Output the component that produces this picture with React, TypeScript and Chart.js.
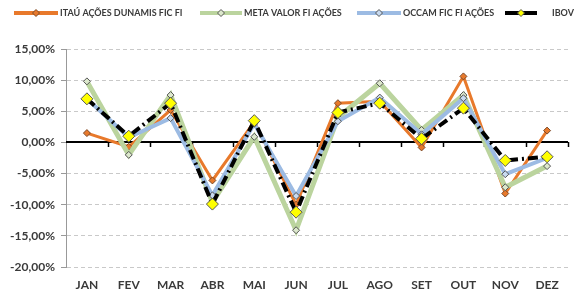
import React, { useEffect, useRef } from "react";
import { Chart, registerables } from "chart.js";

Chart.register(...registerables);

const months = ["JAN", "FEV", "MAR", "ABR", "MAI", "JUN", "JUL", "AGO", "SET", "OUT", "NOV", "DEZ"];
const seriesNames = ["ITAÚ AÇÕES DUNAMIS FIC FI", "META VALOR FI AÇÕES", "OCCAM FIC FI AÇÕES", "IBOV"];
const itau = [1.5, -0.7, 5.2, -6.1, 3.3, -10.0, 6.3, 6.6, -0.8, 10.6, -8.2, 1.9];
const meta = [9.8, -2.0, 7.6, -9.6, 0.9, -14.1, 4.0, 9.5, 2.0, 7.6, -7.2, -3.8];
const occam = [7.0, 0.8, 3.9, -8.5, 3.0, -8.6, 3.4, 7.2, 1.3, 7.1, -5.1, -2.5];
const ibov = [7.0, 1.0, 6.3, -9.9, 3.5, -11.2, 4.8, 6.3, 0.6, 5.5, -2.9, -2.3];
const yTicks = [15, 10, 5, 0, -5, -10, -15, -20];

const FONT = "Lato, 'Open Sans', sans-serif";
const TEXT = "#3a3a3a";

const fmt = (v: number) => v.toFixed(2).replace(".", ",") + "%";

// legend layout: sample line start x and length per item
const legendStarts = [14, 200, 357, 505];
const legendLens = [44, 42, 44, 32];

const zeroLinePlugin = {
  id: "zeroLine",
  beforeDatasetsDraw(chart: any) {
    const { ctx, chartArea, scales } = chart;
    const y = Math.round(scales.y.getPixelForValue(0));
    ctx.save();
    ctx.strokeStyle = "#000";
    ctx.lineWidth = 2;
    ctx.beginPath();
    ctx.moveTo(chartArea.left, y);
    ctx.lineTo(chartArea.right, y);
    ctx.stroke();
    ctx.lineWidth = 1.5;
    const n = months.length;
    const w = (chartArea.right - chartArea.left) / n;
    for (let k = 1; k <= n; k++) {
      const x = Math.round(chartArea.left + k * w) + 0.5;
      ctx.beginPath();
      ctx.moveTo(x, y);
      ctx.lineTo(x, y + 5);
      ctx.stroke();
    }
    ctx.restore();
  },
};

const legendPlugin = {
  id: "customLegend",
  afterDraw(chart: any) {
    const { ctx } = chart;
    ctx.save();
    ctx.font = `bold 9px ${FONT}`;
    ctx.textBaseline = "middle";
    const y = 13;
    chart.data.datasets.forEach((ds: any, i: number) => {
      const x = legendStarts[i];
      const sample = legendLens[i];
      ctx.save();
      ctx.strokeStyle = ds.borderColor;
      ctx.lineWidth = 4;
      ctx.beginPath();
      ctx.moveTo(x, y);
      ctx.lineTo(x + sample, y);
      ctx.stroke();
      const r = ds.legendMarker;
      const cx = x + sample / 2;
      ctx.fillStyle = ds.pointBackgroundColor;
      ctx.strokeStyle = ds.pointBorderColor;
      ctx.lineWidth = 1;
      ctx.beginPath();
      ctx.moveTo(cx, y - r);
      ctx.lineTo(cx + r, y);
      ctx.lineTo(cx, y + r);
      ctx.lineTo(cx - r, y);
      ctx.closePath();
      ctx.fill();
      ctx.stroke();
      ctx.restore();
      ctx.fillStyle = TEXT;
      ctx.fillText(ds.label, x + sample + (i === 3 ? 15 : 2), y);
    });
    ctx.restore();
  },
};

export default function App() {
  const ref = useRef<HTMLCanvasElement | null>(null);
  useEffect(() => {
    if (!ref.current) return;
    const mk = (
      label: string,
      data: number[],
      color: string,
      width: number,
      fill: string,
      border: string,
      radius: number,
      order: number,
      dash: number[] = []
    ) => ({
      label,
      data,
      borderColor: color,
      backgroundColor: color,
      borderWidth: width,
      borderDash: dash,
      pointStyle: "rectRot",
      pointRadius: radius,
      pointBackgroundColor: fill,
      pointBorderColor: border,
      pointBorderWidth: 1,
      tension: 0,
      order,
      legendMarker: Math.min(radius, 3.5),
    });
    const chart = new Chart(ref.current, {
      type: "line",
      data: {
        labels: months,
        datasets: [
          mk(seriesNames[0], itau, "#E8792B", 3, "#E8792B", "#7a4a2a", 3.5, 3),
          mk(seriesNames[1], meta, "#BBD49E", 5, "#DCE8CC", "#555555", 3.5, 2),
          mk(seriesNames[2], occam, "#9CBBE3", 4, "#C8DAF0", "#555555", 3.5, 1),
          mk(seriesNames[3], ibov, "#000000", 4, "#FFFF00", "#555555", 6, 0, [10, 4, 2, 4]),
        ] as any,
      },
      options: {
        responsive: false,
        animation: false,
        layout: { padding: { top: 49, right: 7, left: 0, bottom: 0 } },
        plugins: { legend: { display: false }, tooltip: { enabled: false } },
        scales: {
          x: {
            offset: true,
            grid: { display: false },
            border: { display: false },
            ticks: { font: { family: FONT, size: 12, weight: "bold" }, color: TEXT, padding: 3 },
            afterFit: (s: any) => {
              s.height = 30;
            },
          },
          y: {
            min: -20,
            max: 15,
            afterBuildTicks: (s: any) => {
              s.ticks = yTicks.map((v) => ({ value: v }));
            },
            grid: { color: "#c9c9c9", lineWidth: 1, tickLength: 5, tickColor: "#999" },
            border: { display: true, color: "#999", width: 1, dash: [4, 3] },
            ticks: {
              font: { family: FONT, size: 12, weight: "bold" },
              color: TEXT,
              padding: 6,
              callback: (v: any) => fmt(Number(v)),
            },
            afterFit: (s: any) => {
              s.width = 66;
            },
          },
        },
      },
      plugins: [zeroLinePlugin, legendPlugin],
    } as any);
    return () => chart.destroy();
  }, []);
  return (
    <div style={{ position: "absolute", left: 0, top: 0, width: 575, height: 297, background: "#fff" }}>
      <canvas ref={ref} width={575} height={297} />
    </div>
  );
}
